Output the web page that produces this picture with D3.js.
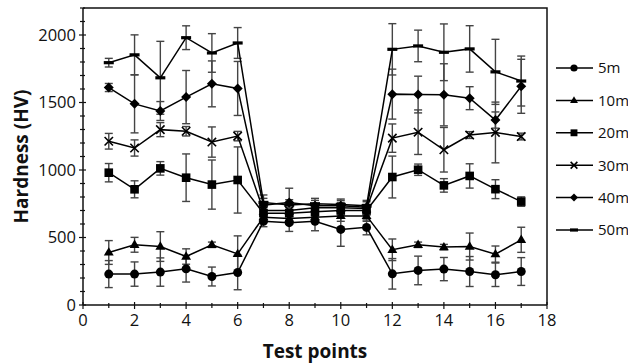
<!DOCTYPE html>
<html>
<head>
<meta charset="utf-8">
<script src="https://cdn.jsdelivr.net/npm/d3@7/dist/d3.min.js"></script>
<style>
  html, body { margin: 0; padding: 0; background: #fff; }
  svg { display: block; }
  text { font-family: "Open Sans", "DejaVu Sans", sans-serif; fill: #111; }
</style>
</head>
<body>
<script>
// Test point positions
const testPoints = [1, 2, 3, 4, 5, 6, 7, 8, 9, 10, 11, 12, 13, 14, 15, 16, 17];

// Mean hardness (HV) per depth
const hv5m  = [229, 229, 244, 268, 211, 241, 620, 610, 620, 560, 575, 231, 256, 266, 248, 224, 248];
const hv10m = [389, 446, 433, 359, 446, 379, 650, 640, 650, 660, 660, 409, 446, 429, 433, 377, 483];
const hv20m = [980, 857, 1012, 943, 892, 926, 680, 680, 690, 700, 700, 948, 1002, 886, 956, 858, 766];
const hv30m = [1213, 1163, 1299, 1287, 1207, 1251, 700, 700, 720, 720, 715, 1236, 1280, 1150, 1259, 1278, 1248];
const hv40m = [1611, 1490, 1437, 1540, 1638, 1604, 740, 760, 735, 735, 725, 1562, 1559, 1557, 1532, 1370, 1620];
const hv50m = [1795, 1853, 1683, 1980, 1867, 1941, 760, 740, 750, 745, 735, 1894, 1919, 1872, 1897, 1727, 1659];

// Standard deviations (HV)
const sd5m  = [100, 90, 105, 98, 70, 128, 40, 65, 70, 125, 55, 113, 106, 86, 111, 87, 103];
const sd10m = [88, 55, 110, 57, 20, 133, 40, 40, 30, 40, 40, 80, 20, 20, 100, 60, 93];
const sd20m = [68, 63, 50, 176, 182, 245, 40, 40, 35, 35, 35, 155, 42, 50, 90, 70, 35];
const sd30m = [58, 60, 52, 35, 112, 35, 40, 40, 30, 40, 30, 105, 165, 165, 25, 225, 25];
const sd40m = [30, 215, 70, 197, 170, 200, 50, 105, 40, 40, 40, 185, 136, 230, 85, 60, 200];
const sd50m = [32, 148, 270, 88, 143, 114, 55, 40, 40, 40, 40, 190, 117, 210, 172, 241, 185];

const seriesNames = ["5m", "10m", "20m", "30m", "40m", "50m"];
const seriesMarkers = ["circle", "triangle", "square", "cross", "diamond", "dash"];

const xTicks = [0, 2, 4, 6, 8, 10, 12, 14, 16, 18];
const yTicks = [0, 500, 1000, 1500, 2000];

const series = [
  { name: seriesNames[0], marker: seriesMarkers[0], values: hv5m,  sd: sd5m },
  { name: seriesNames[1], marker: seriesMarkers[1], values: hv10m, sd: sd10m },
  { name: seriesNames[2], marker: seriesMarkers[2], values: hv20m, sd: sd20m },
  { name: seriesNames[3], marker: seriesMarkers[3], values: hv30m, sd: sd30m },
  { name: seriesNames[4], marker: seriesMarkers[4], values: hv40m, sd: sd40m },
  { name: seriesNames[5], marker: seriesMarkers[5], values: hv50m, sd: sd50m }
];

const W = 628, H = 364;
const m = { left: 83, right: 81, top: 8, bottom: 59 };
const iw = W - m.left - m.right, ih = H - m.top - m.bottom;

const svg = d3.select("body").append("svg").attr("width", W).attr("height", H);
const g = svg.append("g").attr("transform", `translate(${m.left},${m.top})`);

const x = d3.scaleLinear().domain([0, 18]).range([0, iw]);
const y = d3.scaleLinear().domain([0, 2200]).range([ih, 0]);

// Frame (top and right)
g.append("path")
  .attr("d", `M0,0H${iw}V${ih}`)
  .attr("fill", "none").attr("stroke", "#111").attr("stroke-width", 1.5);

// Y axis: minor ticks every 100, labelled majors every 500
const yMinor = d3.range(0, 2201, 100);
g.append("g").selectAll("line").data(yMinor).join("line")
  .attr("x1", d => d % 500 === 0 ? -4 : -3)
  .attr("x2", d => d % 500 === 0 ? 3 : 2)
  .attr("y1", d => y(d)).attr("y2", d => y(d))
  .attr("stroke", "#111").attr("stroke-width", 1.2);
g.append("line").attr("x1", 0).attr("x2", 0).attr("y1", 0).attr("y2", ih)
  .attr("stroke", "#111").attr("stroke-width", 1.5);
g.append("g").selectAll("text").data(yTicks).join("text")
  .attr("x", -7).attr("y", d => y(d)).attr("dy", "0.36em")
  .attr("text-anchor", "end").attr("font-size", 16.5)
  .text(d => d);

// X axis: minor ticks at odd points, labelled majors at even points
const xMinor = d3.range(0, 19, 1);
g.append("g").selectAll("line").data(xMinor).join("line")
  .attr("x1", d => x(d)).attr("x2", d => x(d))
  .attr("y1", d => d % 2 === 0 ? ih - 3 : ih - 2)
  .attr("y2", d => d % 2 === 0 ? ih + 4 : ih + 3)
  .attr("stroke", "#111").attr("stroke-width", 1.2);
g.append("line").attr("x1", 0).attr("x2", iw).attr("y1", ih).attr("y2", ih)
  .attr("stroke", "#111").attr("stroke-width", 1.5);
g.append("g").selectAll("text").data(xTicks).join("text")
  .attr("x", d => x(d)).attr("y", ih + 21)
  .attr("text-anchor", "middle").attr("font-size", 16.5)
  .text(d => d);

// Axis titles
svg.append("text")
  .attr("x", m.left + x(9)).attr("y", 358)
  .attr("text-anchor", "middle").attr("font-size", 19).attr("font-weight", "bold")
  .text("Test points");
svg.append("text")
  .attr("transform", `translate(28,${m.top + ih / 2}) rotate(-90)`)
  .attr("text-anchor", "middle").attr("font-size", 19).attr("font-weight", "bold")
  .text("Hardness (HV)");

// Marker drawing
function drawMarker(sel, type, s) {
  const k = s || 1;
  if (type === "circle") {
    sel.append("circle").attr("r", 4.5 * k).attr("fill", "#000");
  } else if (type === "triangle") {
    const r = 5.2 * k;
    sel.append("path").attr("d", `M0,${-r}L${r * 0.95},${r * 0.6}L${-r * 0.95},${r * 0.6}Z`).attr("fill", "#000");
  } else if (type === "square") {
    const r = 4.3 * k;
    sel.append("rect").attr("x", -r).attr("y", -r).attr("width", 2 * r).attr("height", 2 * r).attr("fill", "#000");
  } else if (type === "cross") {
    const r = 4.2 * k;
    sel.append("path").attr("d", `M${-r},${-r}L${r},${r}M${-r},${r}L${r},${-r}`)
      .attr("stroke", "#000").attr("stroke-width", 1.6).attr("fill", "none");
  } else if (type === "diamond") {
    const r = 5 * k;
    sel.append("path").attr("d", `M0,${-r}L${r},0L0,${r}L${-r},0Z`).attr("fill", "#000");
  } else if (type === "dash") {
    sel.append("rect").attr("x", -5 * k).attr("y", -1.6).attr("width", 10 * k).attr("height", 3.2).attr("fill", "#000");
  }
}

// Error bars (behind everything)
const eb = g.append("g");
series.forEach(s => {
  s.values.forEach((v, i) => {
    const cx = x(testPoints[i]);
    const lo = y(v - s.sd[i]), hi = y(v + s.sd[i]);
    const grp = eb.append("g").attr("stroke", "#444").attr("stroke-width", 1.4);
    grp.append("line").attr("x1", cx).attr("x2", cx).attr("y1", lo).attr("y2", hi);
    grp.append("line").attr("x1", cx - 4).attr("x2", cx + 4).attr("y1", lo).attr("y2", lo);
    grp.append("line").attr("x1", cx - 4).attr("x2", cx + 4).attr("y1", hi).attr("y2", hi);
  });
});

// Lines and markers
const line = d3.line().x((d, i) => x(testPoints[i])).y(d => y(d));
series.forEach(s => {
  g.append("path").datum(s.values).attr("d", line)
    .attr("fill", "none").attr("stroke", "#000").attr("stroke-width", 1.5);
  const mg = g.append("g");
  s.values.forEach((v, i) => {
    const p = mg.append("g").attr("transform", `translate(${x(testPoints[i])},${y(v)})`);
    drawMarker(p, s.marker, 1);
  });
});

// Legend
const lg = svg.append("g").attr("transform", "translate(556,68)");
series.forEach((s, i) => {
  const row = lg.append("g").attr("transform", `translate(0,${i * 32.4})`);
  row.append("line").attr("x1", 0).attr("x2", 37).attr("y1", 0).attr("y2", 0)
    .attr("stroke", "#000").attr("stroke-width", 1.5);
  const mk = row.append("g").attr("transform", "translate(18,0)");
  drawMarker(mk, s.marker, 0.8);
  row.append("text").attr("x", 42).attr("y", 0).attr("dy", "0.36em")
    .attr("font-size", 15).text(s.name);
});
</script>
</body>
</html>
